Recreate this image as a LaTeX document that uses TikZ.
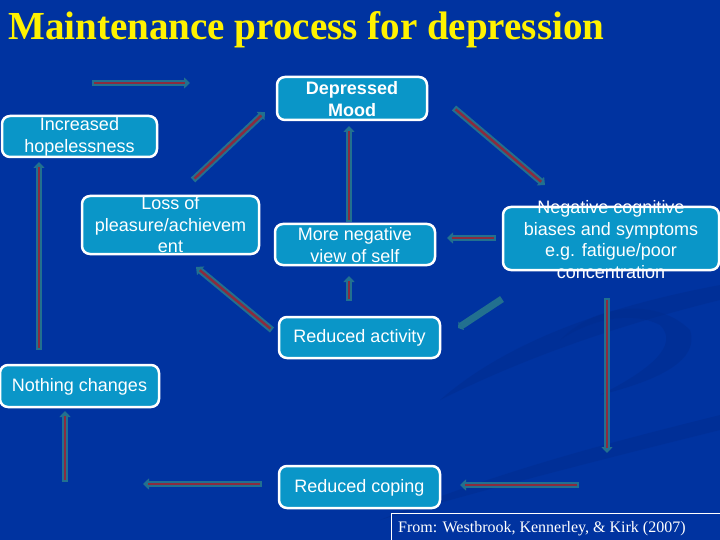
\documentclass[tikz,border=0pt]{standalone}
\usepackage{fontspec}
\setmainfont{Liberation Serif}
\setsansfont{Liberation Sans}
\usetikzlibrary{arrows.meta}
\definecolor{bgT}{HTML}{05133A}
\definecolor{bgM}{HTML}{082A7E}
\definecolor{bgB}{HTML}{0033A0}
\definecolor{boxfill}{HTML}{0A96C8}
\definecolor{teal}{HTML}{22708F}
\definecolor{core}{HTML}{8B2B3F}
\definecolor{swoosh}{HTML}{002C8E}
\pgfdeclareverticalshading{bgshade}{720pt}{color(0pt)=(bgB); color(400pt)=(bgB); color(470pt)=(bgM); color(540pt)=(bgT)}
\begin{document}
\begin{tikzpicture}[x=1pt,y=-1pt,
  box/.style={draw=white, line width=2.5pt, fill=boxfill, rounded corners=8pt, inner sep=0pt},
  boxtext/.style={text=white, font=\sffamily\fontsize{18}{21.5}\selectfont, align=center, inner sep=0pt},
  arrbody/.style={draw=teal, line width=6.5pt, -{Triangle[width=11pt,length=6pt]}},
  arrcore/.style={draw=core, line width=2.5pt, shorten >=5pt, shorten <=2pt}
]
\useasboundingbox (0,0) rectangle (720,540);
\fill[shading=bgshade] (0,0) rectangle (720,540);
% faint background swooshes
\fill[swoosh, opacity=0.45] (440,400) .. controls (520,330) and (640,300) .. (720,285) -- (720,300) .. controls (640,320) and (540,350) .. (440,400) -- cycle;
\fill[swoosh, opacity=0.45] (560,340) .. controls (600,300) and (660,300) .. (690,330) .. controls (700,360) and (660,380) .. (600,395) .. controls (650,370) and (680,345) .. (660,325) .. controls (630,310) and (590,320) .. (560,340) -- cycle;
\fill[swoosh, opacity=0.45] (380,520) .. controls (500,470) and (620,440) .. (720,415) -- (720,430) .. controls (620,455) and (500,485) .. (380,520) -- cycle;

% title
\node[anchor=base west, inner sep=0pt, text=yellow] (title) at (8,40)
  {\resizebox{596pt}{28pt}{\bfseries Maintenance process for depression}};

% boxes
\node[box, minimum width=155pt, minimum height=41pt] (hope) at (79.5,136.5) {};
\node[boxtext] (hopeT) at (79.5,137) {Increased\\hopelessness};
\node[box, minimum width=150pt, minimum height=43pt] (mood) at (352,98.5) {};
\node[boxtext, font=\sffamily\bfseries\fontsize{18}{21.5}\selectfont] (moodT) at (352,99) {Depressed\\Mood};
\node[box, minimum width=177pt, minimum height=58pt] (loss) at (170.5,225) {};
\node[boxtext] (lossT) at (170.5,225) {Loss of\\pleasure/achievem\\ent};
\node[box, minimum width=160pt, minimum height=41pt] (self) at (355,244.5) {};
\node[boxtext] (selfT) at (355,245) {More negative\\view of self};
\node[box, minimum width=216pt, minimum height=63pt] (neg) at (611,238.5) {};
\node[boxtext] (negT) at (611,239.5) {Negative cognitive\\biases and symptoms\\e.g. fatigue/poor\\concentration};
\node[box, minimum width=161pt, minimum height=41pt] (act) at (359.5,337.5) {};
\node[boxtext] (actT) at (359.5,338) {Reduced activity};
\node[box, minimum width=159pt, minimum height=42pt] (noth) at (79.5,386) {};
\node[boxtext] (nothT) at (79.5,386.5) {Nothing changes};
\node[box, minimum width=161pt, minimum height=42pt] (cope) at (359.5,487) {};
\node[boxtext] (copeT) at (359.5,487.5) {Reduced coping};

% citation
\node[draw=white, line width=1pt, anchor=north west, minimum width=332pt, minimum height=29pt, inner sep=0pt] (cite) at (391,513) {};
\node[anchor=base west, inner sep=0pt, text=white, font=\fontsize{16}{18}\selectfont] (citeT) at (398,532) {From: Westbrook, Kennerley, \& Kirk (2007)};

% arrow end points
\coordinate (a1s) at (92,83);   \coordinate (a1e) at (190,83);
\coordinate (a2s) at (193,180); \coordinate (a2e) at (265,112);
\coordinate (a3s) at (454,108); \coordinate (a3e) at (545,185);
\coordinate (a4s) at (496,238); \coordinate (a4e) at (447,238);
\coordinate (a5s) at (349,222); \coordinate (a5e) at (349,126);
\coordinate (a6s) at (349,301); \coordinate (a6e) at (349,276);
\coordinate (a7s) at (272,330); \coordinate (a7e) at (196,267);
\coordinate (a8s) at (502,299); \coordinate (a8e) at (458,328);
\coordinate (a9s) at (607,298); \coordinate (a9e) at (607,453);
\coordinate (a10s) at (579,485); \coordinate (a10e) at (460,485);
\coordinate (a11s) at (262,484); \coordinate (a11e) at (143,484);
\coordinate (a12s) at (65,482); \coordinate (a12e) at (65,411);
\coordinate (a13s) at (39,350); \coordinate (a13e) at (39,162);

\foreach \i in {1,2,3,4,5,6,7,9,10,11,12,13}{
  \draw[arrbody] (a\i s) -- (a\i e);
  \draw[arrcore] (a\i s) -- (a\i e);
}
\draw[arrbody, line width=7pt, -{Triangle[width=10pt,length=4pt]}] (a8s) -- (a8e);
\end{tikzpicture}
\end{document}
